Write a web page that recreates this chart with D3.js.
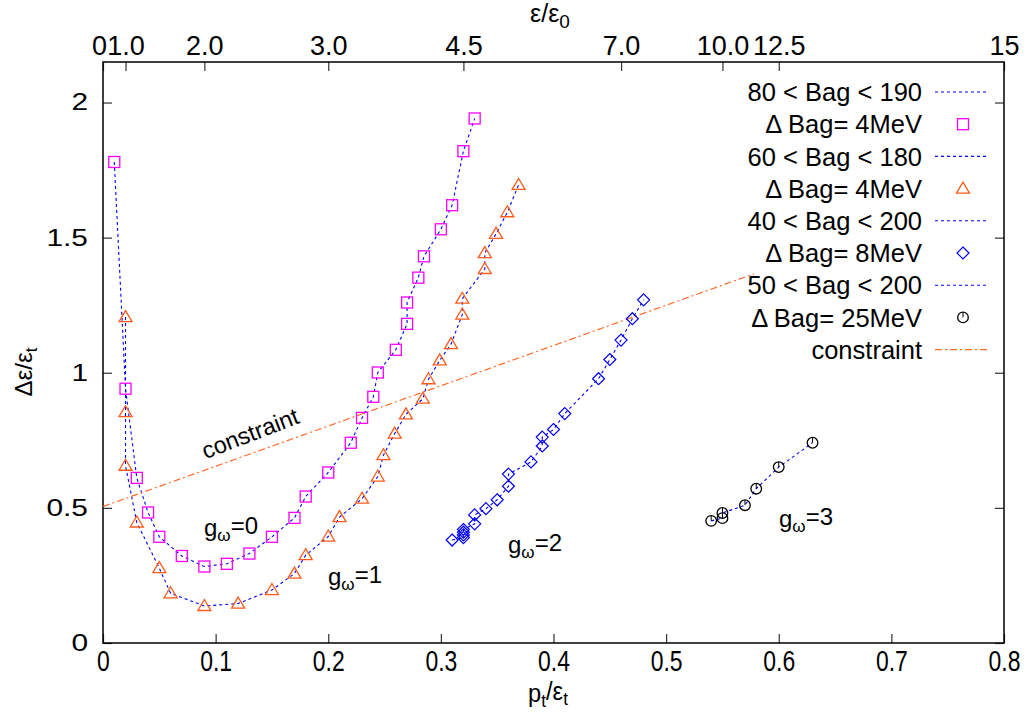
<!DOCTYPE html>
<html><head><meta charset="utf-8">
<script src="https://d3js.org/d3.v7.min.js"></script>
<style>
body{margin:0;background:#fff;}
text{font-family:"Liberation Sans",Arial,Helvetica,sans-serif;fill:#000;}
</style></head>
<body><svg id="c" width="1032" height="717"></svg>
<script>
// ---- data ----
const g0X = [0.010,0.020,0.030,0.040,0.050,0.070,0.090,0.110,0.130,0.150,0.170,0.180,0.200,0.220,0.230,0.240,0.244,0.260,0.270,0.270,0.280,0.285,0.300,0.310,0.320,0.330];
const g0Y = [1.780,0.941,0.611,0.483,0.393,0.322,0.283,0.293,0.331,0.393,0.463,0.542,0.631,0.741,0.833,0.911,1.001,1.085,1.181,1.260,1.352,1.431,1.531,1.620,1.820,1.941];
const g1X = [0.020,0.020,0.020,0.030,0.050,0.060,0.090,0.120,0.150,0.170,0.180,0.200,0.210,0.230,0.244,0.249,0.259,0.269,0.284,0.289,0.299,0.309,0.319,0.319,0.339,0.339,0.349,0.359,0.369];
const g1Y = [1.206,0.854,0.656,0.446,0.277,0.184,0.137,0.146,0.196,0.257,0.325,0.394,0.466,0.534,0.616,0.695,0.775,0.846,0.904,0.976,1.046,1.106,1.215,1.274,1.384,1.443,1.514,1.594,1.695];
const g2X = [0.310,0.320,0.320,0.320,0.320,0.330,0.330,0.340,0.350,0.360,0.360,0.380,0.390,0.390,0.400,0.410,0.440,0.450,0.460,0.470,0.480];
const g2Y = [0.381,0.390,0.400,0.410,0.420,0.441,0.474,0.497,0.530,0.580,0.625,0.670,0.729,0.762,0.790,0.849,0.978,1.049,1.121,1.200,1.270];
const g3X = [0.540,0.550,0.550,0.570,0.580,0.600,0.630];
const g3Y = [0.452,0.462,0.481,0.510,0.571,0.651,0.741];
const constraintX = [0.0,0.578];
const constraintY = [0.505,1.366];

const xTicks = [0,0.1,0.2,0.3,0.4,0.5,0.6,0.7,0.8];
const yTicks = [0,0.5,1,1.5,2];
const x2TickPos = [0,0.02,0.09,0.2,0.32,0.46,0.55,0.6,0.8];
const x2TickLabels = ["0","1.0","2.0","3.0","4.5","7.0","10.0","12.5","15"];
const legendLabels = ["80 < Bag < 190","\u0394 Bag= 4MeV","60 < Bag < 180","\u0394 Bag= 4MeV","40 < Bag < 200","\u0394 Bag= 8MeV","50 < Bag < 200","\u0394 Bag= 25MeV","constraint"];

// ---- chart ----
const svg = d3.select("#c");
const x = d3.scaleLinear([0,0.8],[103,1004]);
const y = d3.scaleLinear([0,2.15],[643,62]);
const BLUE="#0000ff", MAG="#ff00ff", ORG="#ff5a1a", CON="#ff6a2a";

// axes
const ax = svg.append("g");
const gB = ax.append("g").attr("transform","translate(0,643)")
  .call(d3.axisBottom(x).tickValues(xTicks).tickSize(-9).tickPadding(8).tickFormat(d=>d===0?"0":d3.format(".1f")(d)));
const gT = ax.append("g").attr("transform","translate(0,62)")
  .call(d3.axisTop(x).tickValues(x2TickPos).tickSize(-9).tickPadding(7).tickFormat((d,i)=>x2TickLabels[i]));
const gL = ax.append("g").attr("transform","translate(103,0)")
  .call(d3.axisLeft(y).tickValues(yTicks).tickSize(-9).tickPadding(15).tickFormat(d=>d===0?"0":(d%1===0?d3.format("d")(d):d3.format(".1f")(d))));
ax.append("g").attr("transform","translate(1004,0)")
  .call(d3.axisRight(y).tickValues(yTicks).tickSize(-9).tickFormat(""));
ax.selectAll(".domain").remove();
ax.selectAll("text").style("font-family","Liberation Sans, Arial, sans-serif");
ax.selectAll(".tick line").attr("stroke","#333").attr("stroke-width",1.2);
// bottom ticks: tall, condensed
gB.selectAll(".tick text").style("font-size","27px").attr("dy",null)
  .attr("transform","translate(0,28) scale(0.85,1.06)").attr("y",0);
// top ticks
gT.selectAll(".tick text").style("font-size","27px")
  .attr("dx",(d,i)=>i===0?"-4":null);
// left ticks: wide
gL.selectAll(".tick text").style("font-size","23px")
  .each(function(){
    const t=d3.select(this); const xx=+t.attr("x");
    t.attr("x",0).attr("transform",`translate(${xx},0) scale(1.3,1)`);
  });
svg.append("rect").attr("x",103).attr("y",62).attr("width",901).attr("height",581)
  .attr("fill","none").attr("stroke","#000").attr("stroke-width",1.5);

// lines
const line = d3.line().x(d=>x(d[0])).y(d=>y(d[1]));
const series = [
  {X:g0X,Y:g0Y,shape:"square",color:MAG},
  {X:g1X,Y:g1Y,shape:"triangle",color:ORG},
  {X:g2X,Y:g2Y,shape:"diamond",color:BLUE},
  {X:g3X,Y:g3Y,shape:"circle",color:"#000"}
];
const plot = svg.append("g");
series.forEach(s=>{
  const pts = s.X.map((v,i)=>[v,s.Y[i]]);
  plot.append("path").datum(pts).attr("d",line).attr("fill","none")
    .attr("stroke",BLUE).attr("stroke-width",1.1).attr("stroke-dasharray","3,3");
});
plot.append("path").datum(constraintX.map((v,i)=>[v,constraintY[i]])).attr("d",line)
  .attr("fill","none").attr("stroke",CON).attr("stroke-width",1.2).attr("stroke-dasharray","7,3,2,3");

function marker(g,shape,cx,cy,color){
  if(shape==="square"){
    g.append("rect").attr("x",cx-5.5).attr("y",cy-5.5).attr("width",11).attr("height",11)
      .attr("fill","none").attr("stroke",color).attr("stroke-width",1.3);
  } else if(shape==="triangle"){
    g.append("path").attr("d",`M${cx},${cy-6.5}L${cx+6.5},${cy+4.5}L${cx-6.5},${cy+4.5}Z`)
      .attr("fill","none").attr("stroke",color).attr("stroke-width",1.3);
  } else if(shape==="diamond"){
    g.append("path").attr("d",`M${cx},${cy-6}L${cx+6},${cy}L${cx},${cy+6}L${cx-6},${cy}Z`)
      .attr("fill","none").attr("stroke",color).attr("stroke-width",1.2);
  } else {
    g.append("circle").attr("cx",cx).attr("cy",cy).attr("r",5.3)
      .attr("fill","none").attr("stroke",color).attr("stroke-width",1.3);
    g.append("line").attr("x1",cx).attr("x2",cx).attr("y1",cy).attr("y2",cy-5)
      .attr("stroke",color).attr("stroke-width",1);
  }
}
series.forEach(s=>{
  s.X.forEach((v,i)=>marker(plot,s.shape,x(v),y(s.Y[i]),s.color));
});

// legend
const leg = svg.append("g");
const rowY0 = 92, rowDy = 32.2;
const legKinds = ["line","square","line","triangle","line","diamond","line","circle","con"];
const legColors = [BLUE,MAG,BLUE,ORG,BLUE,BLUE,BLUE,"#000",CON];
legendLabels.forEach((t,i)=>{
  const yy = rowY0 + i*rowDy;
  leg.append("text").attr("x",922).attr("y",yy).attr("dy","0.36em").attr("text-anchor","end")
    .style("font-size","25.5px").text(t);
  const k = legKinds[i];
  if(k==="line"){
    leg.append("line").attr("x1",935).attr("x2",989).attr("y1",yy).attr("y2",yy)
      .attr("stroke",BLUE).attr("stroke-width",1.1).attr("stroke-dasharray","3,3");
  } else if(k==="con"){
    leg.append("line").attr("x1",935).attr("x2",989).attr("y1",yy).attr("y2",yy)
      .attr("stroke",CON).attr("stroke-width",1.2).attr("stroke-dasharray","7,3,2,3");
  } else {
    marker(leg,k,963,yy,legColors[i]);
  }
});

// labels
function sub(sel,parts,subSize){
  parts.forEach(p=>{
    sel.append("tspan").text(p[0]).attr("font-size",p[1]?subSize:null)
      .attr("dy",p[2]||null);
  });
}
const yl = svg.append("text").attr("transform","translate(32,372) rotate(-90)")
  .attr("text-anchor","middle").style("font-size","24px");
sub(yl,[["\u0394\u03b5/\u03b5",false],["t",true,"0.3em"]],"17px");
const xl = svg.append("text").attr("transform","translate(548,702) scale(0.95,1.0)").attr("text-anchor","middle").style("font-size","25px");
sub(xl,[["p",false],["t",true,"0.3em"],["/\u03b5",false,"-0.3em"],["t",true,"0.3em"]],"18px");
const tl = svg.append("text").attr("x",550).attr("y",22).attr("text-anchor","middle").style("font-size","25px");
sub(tl,[["\u03b5/\u03b5",false],["0",true,"0.3em"]],"19px");

svg.append("text").attr("transform","translate(253,441) rotate(-21)").attr("text-anchor","middle")
  .style("font-size","23.5px").text("constraint");

const gl = [["0",204,536],["1",328,585],["2",508,553],["3",779,527]];
gl.forEach(g=>{
  const t = svg.append("text").attr("x",g[1]).attr("y",g[2]).style("font-size","24px");
  t.append("tspan").text("g");
  t.append("tspan").text("\u03c9").attr("font-size","17px").attr("dy","0.3em");
  t.append("tspan").text("="+g[0]).attr("dy","-0.3em");
});
</script></body></html>
